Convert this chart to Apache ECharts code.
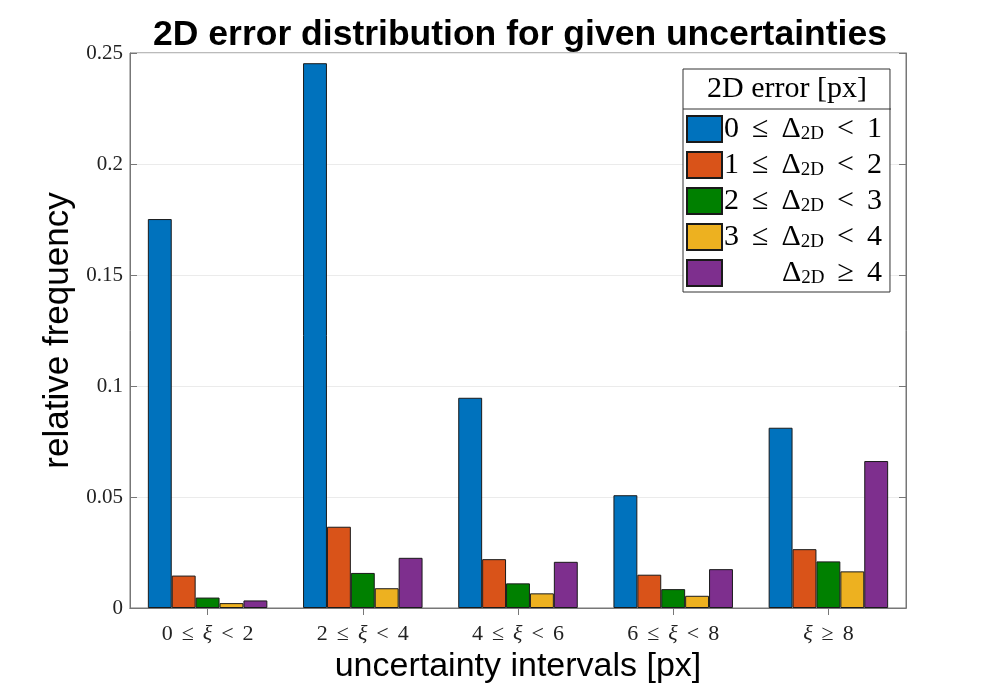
<!DOCTYPE html>
<html>
<head>
<meta charset="utf-8">
<script src="https://cdn.jsdelivr.net/npm/echarts@6/dist/echarts.min.js"></script>
<style>html,body{margin:0;padding:0;background:#fff}#c{width:1000px;height:686px}</style>
</head>
<body>
<div id="c"></div>
<script>
// ---- data ----
var categories = ['0 ≤ ξ < 2', '2 ≤ ξ < 4', '4 ≤ ξ < 6', '6 ≤ ξ < 8', 'ξ ≥ 8'];
var seriesNames = ['0 ≤ Δ2D < 1', '1 ≤ Δ2D < 2', '2 ≤ Δ2D < 3', '3 ≤ Δ2D < 4', 'Δ2D ≥ 4'];
var err0to1 = [0.1752, 0.2454, 0.0947, 0.0508, 0.0812];
var err1to2 = [0.0146, 0.0366, 0.0220, 0.0150, 0.0265];
var err2to3 = [0.0047, 0.0158, 0.0111, 0.0085, 0.0210];
var err3to4 = [0.0022, 0.0089, 0.0066, 0.0055, 0.0165];
var err4up  = [0.0034, 0.0226, 0.0208, 0.0175, 0.0662];
var yTicks = [0, 0.05, 0.1, 0.15, 0.2, 0.25];

var seriesData = [err0to1, err1to2, err2to3, err3to4, err4up];
var colors = ['#0072BD', '#D95319', '#008000', '#EDB120', '#7E2F8E'];
var SERIF = '"Liberation Serif", "DejaVu Serif", serif';
var SANS = '"Liberation Sans", Arial, sans-serif';

var chart = echarts.init(document.getElementById('c'));

// wrap relation symbols (≤ < ≥) with math-like spacing
function mathRich(str, key) {
  var out = '';
  var buf = '';
  for (var k = 0; k < str.length; k++) {
    var ch = str[k];
    if (ch === ' ') continue;
    if (ch === '≤' || ch === '<' || ch === '≥') {
      if (buf) { out += '{' + key + '|' + buf + '}'; buf = ''; }
      out += '{' + key + 'r|' + ch + '}';
    } else if (ch === 'ξ') {
      if (buf) { out += '{' + key + '|' + buf + '}'; buf = ''; }
      out += '{' + key + 'i|ξ}';
    } else {
      buf += ch;
    }
  }
  if (buf) out += '{' + key + '|' + buf + '}';
  return out;
}

function legendFmt(name) {
  var m = name.match(/^(.*)Δ2D(.*)$/);
  var pre = m[1].trim(), post = m[2].trim();
  var s = '';
  if (pre) s += mathRich(pre, 'a'); else s += '{sp|}';
  s += '{a|Δ}{s|2D}' + mathRich(post, 'a');
  return s;
}
function xFmt(v) { return mathRich(v, 'x'); }

var series = seriesNames.map(function (n, i) {
  return {
    name: n,
    type: 'bar',
    data: seriesData[i],
    barGap: '0%',
    barCategoryGap: '23%',
    itemStyle: { color: colors[i], borderColor: '#1a1a1a', borderWidth: 1 },
    emphasis: { disabled: true },
    animation: false
  };
});

chart.setOption({
  animation: false,
  title: {
    text: '2D error distribution for given uncertainties',
    left: 515, top: 12, textAlign: 'center',
    textStyle: { fontFamily: SANS, fontWeight: 'bold', fontSize: 35.5, color: '#000' }
  },
  grid: {
    left: 130, right: 94, top: 53, bottom: 78,
    outerBoundsMode: 'none', containLabel: false,
    show: true, borderColor: '#777', borderWidth: 1
  },
  legend: {
    orient: 'vertical',
    left: 683, top: 69,
    padding: [45, 8, 4, 3],
    itemGap: 6,
    itemWidth: 35, itemHeight: 26,
    backgroundColor: '#fff',
    borderColor: '#333', borderWidth: 1,
    borderRadius: 0,
    icon: 'rect',
    selectedMode: false,
    formatter: legendFmt,
    textStyle: {
      fontFamily: SERIF, color: '#000', padding: [0, 0, 0, -3],
      rich: {
        a: { fontFamily: SERIF, fontSize: 30, color: '#000', lineHeight: 26 },
        ar: { fontFamily: SERIF, fontSize: 30, color: '#000', lineHeight: 26, padding: [0, 13, 0, 13] },
        s: { fontFamily: SERIF, fontSize: 19, color: '#000', lineHeight: 14, padding: [10, 0, 0, 0] },
        sp: { width: 58 }
      }
    }
  },
  graphic: [
    { type: 'line', shape: { x1: 683, y1: 109, x2: 891, y2: 109 }, style: { stroke: '#333', lineWidth: 1 }, z: 100 },
    { type: 'text', x: 787, y: 89, style: { text: '2D error [px]', font: '30px ' + SERIF, fill: '#000', align: 'center', verticalAlign: 'middle' }, z: 100 }
  ],
  xAxis: [{
    type: 'category',
    data: categories,
    name: 'uncertainty intervals [px]',
    nameLocation: 'middle', nameGap: 42,
    nameTextStyle: { fontFamily: SANS, fontSize: 34, color: '#000' },
    axisLine: { show: true, lineStyle: { color: '#777' } },
    axisTick: { show: true, inside: true, alignWithLabel: true, length: 7, lineStyle: { color: '#777' } },
    axisLabel: {
      formatter: xFmt, margin: 15, interval: 0,
      rich: {
        x: { fontFamily: SERIF, fontSize: 22, color: '#222' },
        xr: { fontFamily: SERIF, fontSize: 22, color: '#222', padding: [0, 9, 0, 9] },
        xi: { fontFamily: SERIF, fontSize: 22, color: '#222', fontStyle: 'italic' }
      }
    },
    splitLine: { show: false }
  }, {
    type: 'category', position: 'top', data: categories,
    axisLine: { show: true, lineStyle: { color: '#777' } },
    axisTick: { show: true, inside: true, alignWithLabel: true, length: 7, lineStyle: { color: '#777' } },
    axisLabel: { show: false }
  }],
  yAxis: [{
    type: 'value', min: 0, max: 0.25, interval: 0.05,
    name: 'relative frequency',
    nameLocation: 'middle', nameGap: 48,
    nameTextStyle: { fontFamily: SANS, fontSize: 35, color: '#000' },
    axisLine: { show: true, lineStyle: { color: '#777' } },
    axisTick: { show: true, inside: true, length: 7, lineStyle: { color: '#777' } },
    axisLabel: {
      margin: 7, fontFamily: SERIF, fontSize: 21, color: '#222',
      formatter: function (v) { return yTicks.indexOf(+v.toFixed(2)) >= 0 ? String(+v.toFixed(2)) : ''; }
    },
    splitLine: { show: true, lineStyle: { color: '#ebebeb', width: 1 } }
  }, {
    type: 'value', min: 0, max: 0.25, interval: 0.05, position: 'right',
    axisLine: { show: true, lineStyle: { color: '#777' } },
    axisTick: { show: true, inside: true, length: 7, lineStyle: { color: '#777' } },
    axisLabel: { show: false },
    splitLine: { show: false }
  }],
  series: series
});
</script>
</body>
</html>
